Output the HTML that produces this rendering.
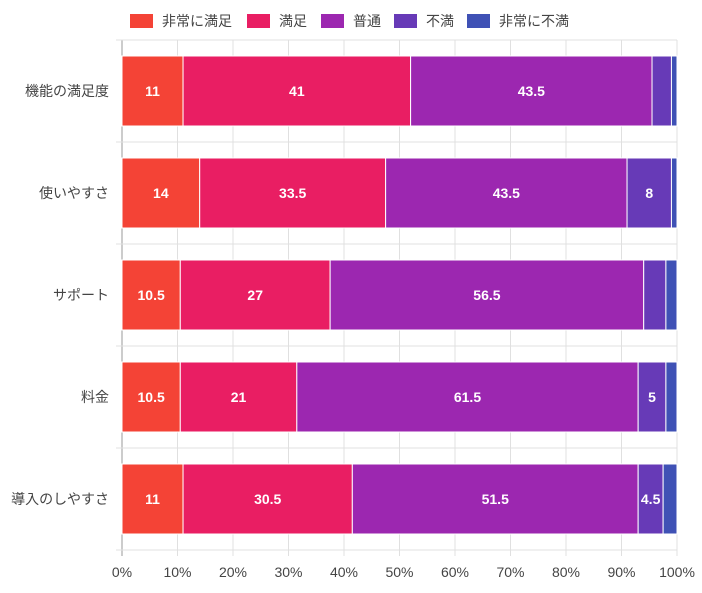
<!DOCTYPE html>
<html><head><meta charset="utf-8"><style>
body{margin:0;background:#fff;font-family:"Liberation Sans","Noto Sans CJK JP",sans-serif}
</style></head><body>
<svg id="c" width="702" height="588" xmlns="http://www.w3.org/2000/svg"></svg>
<script>
const categories=["機能の満足度","使いやすさ","サポート","料金","導入のしやすさ"];
const seriesNames=["非常に満足","満足","普通","不満","非常に不満"];
const seriesColors=["#f44336","#e91e63","#9c27b0","#673ab7","#3f51b5"];
const s1=[11,14,10.5,10.5,11];
const s2=[41,33.5,27,21,30.5];
const s3=[43.5,43.5,56.5,61.5,51.5];
const s4=[3.5,8,4,5,4.5];
const s5=[1,1,2,2,2.5];
const tickLabels=["0%","10%","20%","30%","40%","50%","60%","70%","80%","90%","100%"];
const series=[s1,s2,s3,s4,s5];
const NS="http://www.w3.org/2000/svg";
const svg=document.getElementById('c');
const x0=122,x1=677,yTop=40,yBot=550;
const xs=v=>x0+(x1-x0)*v/100;
const band=(yBot-yTop)/categories.length;
const ys=i=>yTop+band*i+(band-70)/2;
function mk(t,a){const e=document.createElementNS(NS,t);for(const k in a)e.setAttribute(k,a[k]);svg.appendChild(e);return e;}
// grid
tickLabels.forEach((t,i)=>{
 const x=xs(i*10);
 const g=mk('line',{x1:x,x2:x,y1:yTop,y2:yBot+6,stroke:i==0?'#999':'#e0e0e0','stroke-width':1});
 
 
 const tx=mk('text',{x:x,y:577,'text-anchor':'middle','font-size':14,fill:'#444'});
 tx.textContent=t;
 
 
});
for(let i=0;i<=categories.length;i++){
 const y=yTop+band*i;
 const l=mk('line',{x1:x0-6,x2:x1,y1:y,y2:y,stroke:'#e0e0e0'});
 
 
}
categories.forEach((c,i)=>{
 const y=ys(i);
 const lab=mk('text',{x:x0-13,y:y+40,'text-anchor':'end','font-size':14,fill:'#444'});
 lab.textContent=c;
 
 
 let acc=0;
 series.forEach((s,j)=>{
  const v=s[i];
  const r=mk('rect',{x:xs(acc),y:y,width:xs(acc+v)-xs(acc),height:70,fill:seriesColors[j],stroke:'#fff','stroke-width':1});
  
  
  if(v>=4.5){
   const t=mk('text',{x:(xs(acc)+xs(acc+v))/2,y:y+40,'text-anchor':'middle','font-size':14,'font-weight':'bold',fill:'#fff'});
   t.textContent=v;
   
   
  }
  acc+=v;
 });
});
// legend
const lx=[130,247,321,394,467];
seriesNames.forEach((n,j)=>{
 const r=mk('rect',{x:lx[j],y:14,width:23,height:14,fill:seriesColors[j]});
 
 
 const t=mk('text',{x:lx[j]+32,y:26,'font-size':14,fill:'#444'});
 t.textContent=n;
 
 
});
</script>
</body></html>
